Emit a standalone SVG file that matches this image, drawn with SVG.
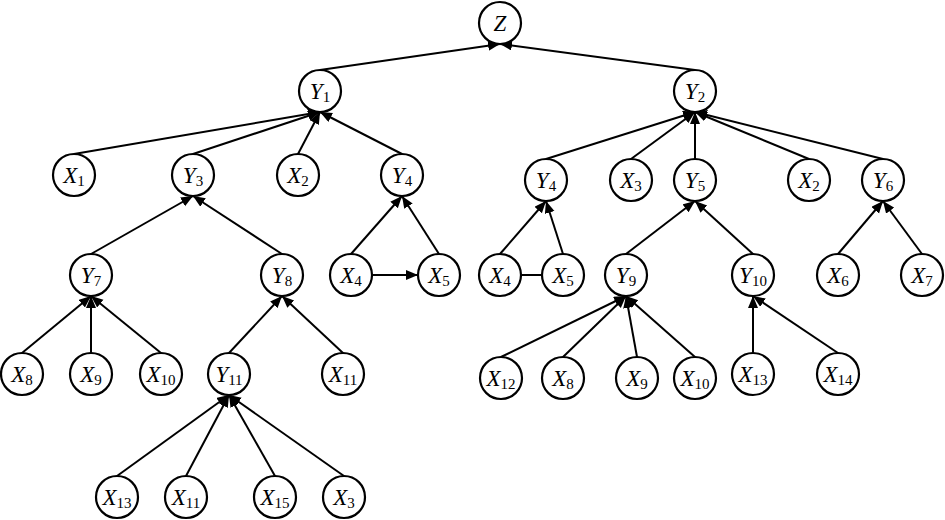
<svg xmlns="http://www.w3.org/2000/svg" width="945" height="520" viewBox="0 0 945 520">
<style>
.n circle{fill:#fff;stroke:#000;stroke-width:2.2}
.n text{font-family:"Liberation Serif","Times New Roman",serif;font-style:italic;font-size:23px;text-anchor:middle;fill:#000}
.n tspan{font-style:normal;font-size:15px}
.e line{stroke:#000;stroke-width:2}
.a{marker-end:url(#ah)}
</style>
<defs>
<marker id="ah" markerUnits="userSpaceOnUse" markerWidth="13" markerHeight="11" refX="12" refY="5" orient="auto">
<path d="M0,0 L12,5 L0,10 z" fill="#000"/>
</marker>
</defs>
<rect width="945" height="520" fill="#fff"/>
<g id="connectors" class="e">
<line class="a" x1="320" y1="70" x2="500" y2="44"/>
<line class="a" x1="695" y1="70" x2="500" y2="44"/>
<line class="a" x1="74" y1="154" x2="320" y2="112"/>
<line class="a" x1="193" y1="154" x2="320" y2="112"/>
<line class="a" x1="298" y1="154" x2="320" y2="112"/>
<line class="a" x1="402" y1="154" x2="320" y2="112"/>
<line class="a" x1="546" y1="159" x2="695" y2="112"/>
<line class="a" x1="631" y1="159" x2="695" y2="112"/>
<line class="a" x1="695" y1="159" x2="695" y2="112"/>
<line class="a" x1="809" y1="159" x2="695" y2="112"/>
<line class="a" x1="883" y1="159" x2="695" y2="112"/>
<line class="a" x1="91" y1="254" x2="193" y2="196"/>
<line class="a" x1="282" y1="254" x2="193" y2="196"/>
<line class="a" x1="351" y1="254" x2="402" y2="196"/>
<line class="a" x1="439" y1="254" x2="402" y2="196"/>
<line class="a" x1="372" y1="275" x2="418" y2="275"/>
<line class="a" x1="500" y1="254" x2="546" y2="201"/>
<line class="a" x1="563" y1="254" x2="546" y2="201"/>
<line x1="521" y1="275" x2="542" y2="275"/>
<line class="a" x1="626" y1="254" x2="695" y2="201"/>
<line class="a" x1="753" y1="254" x2="695" y2="201"/>
<line class="a" x1="838" y1="254" x2="883" y2="201"/>
<line class="a" x1="922" y1="254" x2="883" y2="201"/>
<line class="a" x1="22" y1="353" x2="91" y2="296"/>
<line class="a" x1="91" y1="353" x2="91" y2="296"/>
<line class="a" x1="161" y1="353" x2="91" y2="296"/>
<line class="a" x1="229" y1="353" x2="282" y2="296"/>
<line class="a" x1="343" y1="353" x2="282" y2="296"/>
<line class="a" x1="117" y1="476" x2="229" y2="395"/>
<line class="a" x1="186" y1="476" x2="229" y2="395"/>
<line class="a" x1="275" y1="476" x2="229" y2="395"/>
<line class="a" x1="344" y1="476" x2="229" y2="395"/>
<line class="a" x1="501" y1="357" x2="626" y2="296"/>
<line class="a" x1="563" y1="357" x2="626" y2="296"/>
<line class="a" x1="637" y1="357" x2="626" y2="296"/>
<line class="a" x1="695" y1="357" x2="626" y2="296"/>
<line class="a" x1="753" y1="353" x2="753" y2="296"/>
<line class="a" x1="838" y1="353" x2="753" y2="296"/>
</g>
<g id="Z" class="n"><circle cx="500" cy="23" r="21"/><text x="500" y="31">Z</text></g>
<g id="Y1" class="n"><circle cx="320" cy="91" r="21"/><text x="320" y="99">Y<tspan dy="3">1</tspan></text></g>
<g id="Y2" class="n"><circle cx="695" cy="91" r="21"/><text x="695" y="99">Y<tspan dy="3">2</tspan></text></g>
<g id="X1" class="n"><circle cx="74" cy="175" r="21"/><text x="74" y="183">X<tspan dy="3">1</tspan></text></g>
<g id="Y3" class="n"><circle cx="193" cy="175" r="21"/><text x="193" y="183">Y<tspan dy="3">3</tspan></text></g>
<g id="X2a" class="n"><circle cx="298" cy="175" r="21"/><text x="298" y="183">X<tspan dy="3">2</tspan></text></g>
<g id="Y4a" class="n"><circle cx="402" cy="175" r="21"/><text x="402" y="183">Y<tspan dy="3">4</tspan></text></g>
<g id="Y4b" class="n"><circle cx="546" cy="180" r="21"/><text x="546" y="188">Y<tspan dy="3">4</tspan></text></g>
<g id="X3a" class="n"><circle cx="631" cy="180" r="21"/><text x="631" y="188">X<tspan dy="3">3</tspan></text></g>
<g id="Y5" class="n"><circle cx="695" cy="180" r="21"/><text x="695" y="188">Y<tspan dy="3">5</tspan></text></g>
<g id="X2b" class="n"><circle cx="809" cy="180" r="21"/><text x="809" y="188">X<tspan dy="3">2</tspan></text></g>
<g id="Y6" class="n"><circle cx="883" cy="180" r="21"/><text x="883" y="188">Y<tspan dy="3">6</tspan></text></g>
<g id="Y7" class="n"><circle cx="91" cy="275" r="21"/><text x="91" y="283">Y<tspan dy="3">7</tspan></text></g>
<g id="Y8" class="n"><circle cx="282" cy="275" r="21"/><text x="282" y="283">Y<tspan dy="3">8</tspan></text></g>
<g id="X4a" class="n"><circle cx="351" cy="275" r="21"/><text x="351" y="283">X<tspan dy="3">4</tspan></text></g>
<g id="X5a" class="n"><circle cx="439" cy="275" r="21"/><text x="439" y="283">X<tspan dy="3">5</tspan></text></g>
<g id="X4b" class="n"><circle cx="500" cy="275" r="21"/><text x="500" y="283">X<tspan dy="3">4</tspan></text></g>
<g id="X5b" class="n"><circle cx="563" cy="275" r="21"/><text x="563" y="283">X<tspan dy="3">5</tspan></text></g>
<g id="Y9" class="n"><circle cx="626" cy="275" r="21"/><text x="626" y="283">Y<tspan dy="3">9</tspan></text></g>
<g id="Y10" class="n"><circle cx="753" cy="275" r="21"/><text x="753" y="283">Y<tspan dy="3">10</tspan></text></g>
<g id="X6" class="n"><circle cx="838" cy="275" r="21"/><text x="838" y="283">X<tspan dy="3">6</tspan></text></g>
<g id="X7" class="n"><circle cx="922" cy="275" r="21"/><text x="922" y="283">X<tspan dy="3">7</tspan></text></g>
<g id="X8a" class="n"><circle cx="22" cy="374" r="21"/><text x="22" y="382">X<tspan dy="3">8</tspan></text></g>
<g id="X9a" class="n"><circle cx="91" cy="374" r="21"/><text x="91" y="382">X<tspan dy="3">9</tspan></text></g>
<g id="X10a" class="n"><circle cx="161" cy="374" r="21"/><text x="161" y="382">X<tspan dy="3">10</tspan></text></g>
<g id="Y11" class="n"><circle cx="229" cy="374" r="21"/><text x="229" y="382">Y<tspan dy="3">11</tspan></text></g>
<g id="X11a" class="n"><circle cx="343" cy="374" r="21"/><text x="343" y="382">X<tspan dy="3">11</tspan></text></g>
<g id="X12" class="n"><circle cx="501" cy="378" r="21"/><text x="501" y="386">X<tspan dy="3">12</tspan></text></g>
<g id="X8b" class="n"><circle cx="563" cy="378" r="21"/><text x="563" y="386">X<tspan dy="3">8</tspan></text></g>
<g id="X9b" class="n"><circle cx="637" cy="378" r="21"/><text x="637" y="386">X<tspan dy="3">9</tspan></text></g>
<g id="X10b" class="n"><circle cx="695" cy="378" r="21"/><text x="695" y="386">X<tspan dy="3">10</tspan></text></g>
<g id="X13b" class="n"><circle cx="753" cy="374" r="21"/><text x="753" y="382">X<tspan dy="3">13</tspan></text></g>
<g id="X14" class="n"><circle cx="838" cy="374" r="21"/><text x="838" y="382">X<tspan dy="3">14</tspan></text></g>
<g id="X13a" class="n"><circle cx="117" cy="497" r="21"/><text x="117" y="505">X<tspan dy="3">13</tspan></text></g>
<g id="X11b" class="n"><circle cx="186" cy="497" r="21"/><text x="186" y="505">X<tspan dy="3">11</tspan></text></g>
<g id="X15" class="n"><circle cx="275" cy="497" r="21"/><text x="275" y="505">X<tspan dy="3">15</tspan></text></g>
<g id="X3b" class="n"><circle cx="344" cy="497" r="21"/><text x="344" y="505">X<tspan dy="3">3</tspan></text></g>
</svg>
